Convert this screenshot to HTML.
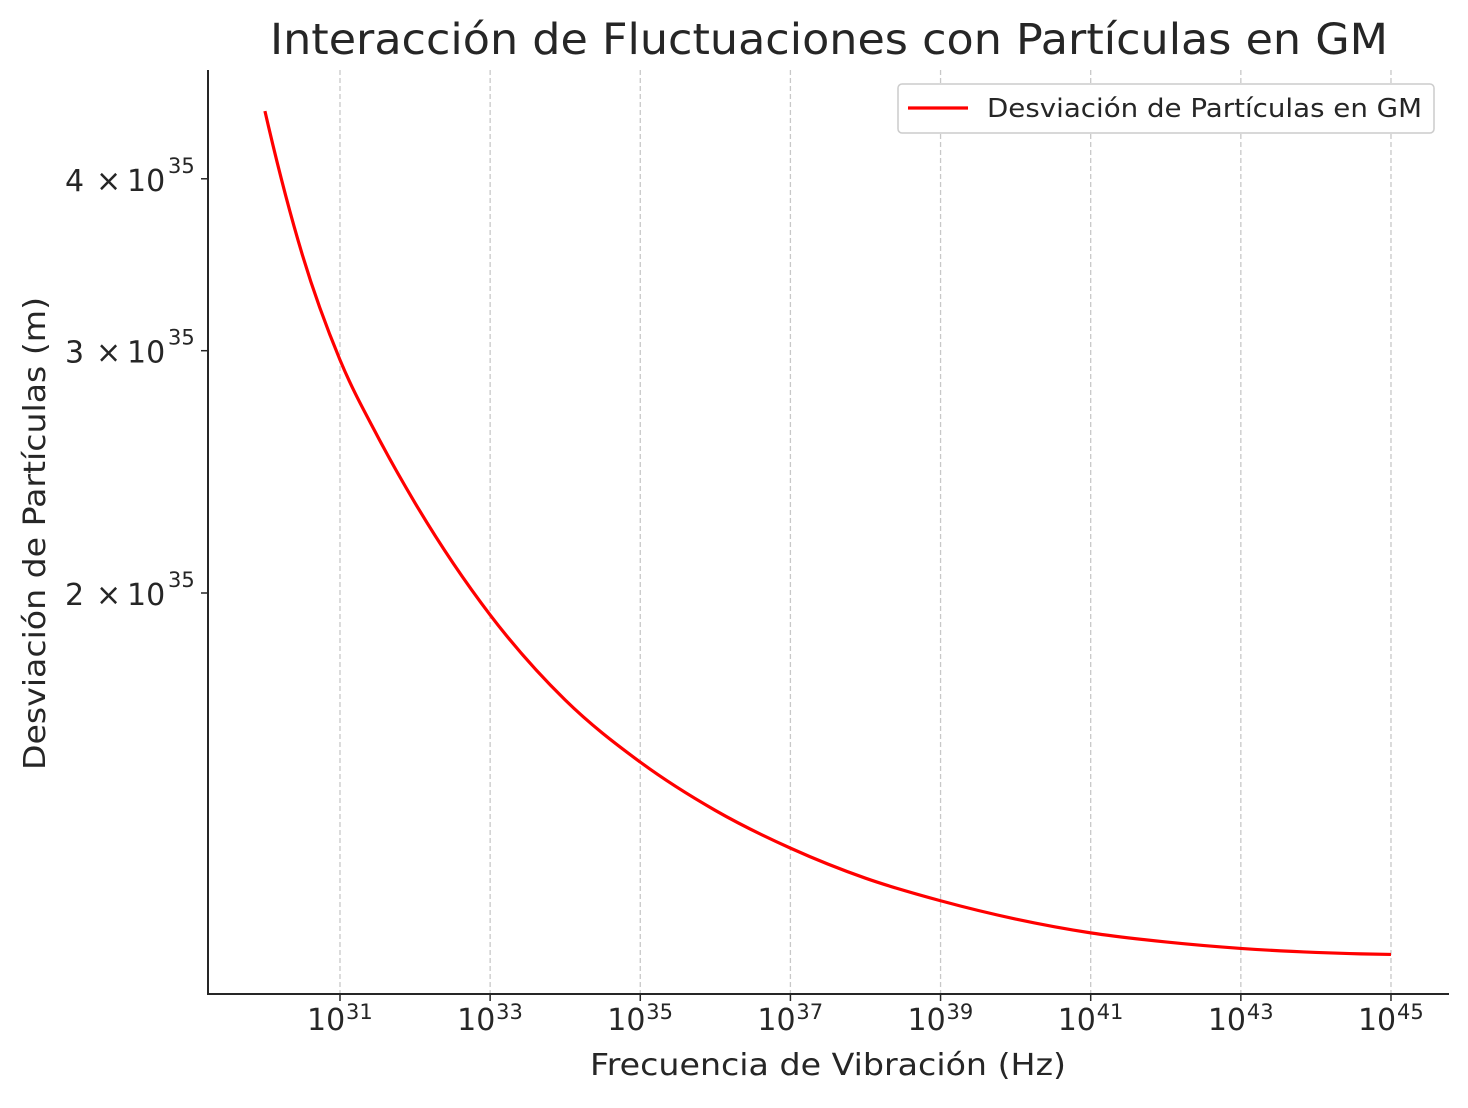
<!DOCTYPE html>
<html><head><meta charset="utf-8"><style>
body{margin:0;background:#fff}
text{font-family:"DejaVu Sans","Liberation Sans",sans-serif;fill:#262626}
</style></head><body>
<svg width="1468" height="1103" xmlns="http://www.w3.org/2000/svg">
<rect width="1468" height="1103" fill="#fff"/>
<text x="270" y="54" font-size="43" textLength="1118" lengthAdjust="spacingAndGlyphs">Interacción de Fluctuaciones con Partículas en GM</text>
<g id="grid"></g>
<g id="xt"></g>
<g id="yt"></g>
<path id="curve" fill="none" stroke="#ff0000" stroke-width="3.2" stroke-linejoin="round"/>
<line x1="208" y1="70" x2="208" y2="995" stroke="#262626" stroke-width="2"/>
<line x1="207" y1="994" x2="1449" y2="994" stroke="#262626" stroke-width="2"/>
<text x="590" y="1075" font-size="30" textLength="476" lengthAdjust="spacingAndGlyphs">Frecuencia de Vibración (Hz)</text>
<text transform="translate(45,770) rotate(-90)" font-size="30" textLength="473" lengthAdjust="spacingAndGlyphs">Desviación de Partículas (m)</text>
<g>
<rect x="898" y="84" width="536" height="49" rx="4" fill="#fff" stroke="#ccc" stroke-width="1.5"/>
<line x1="908" y1="108" x2="968" y2="108" stroke="#ff0000" stroke-width="3.2"/>
<text x="987" y="117" font-size="26" textLength="435" lengthAdjust="spacingAndGlyphs">Desviación de Partículas en GM</text>
</g>
</svg>
<script>
const xExp=[30,30.5,31,31.5,32,33,34,35,36,37,38,39,40,41,42,43,44,45];
const yVal=[4.48,3.52,2.954,2.60,2.325,1.928,1.672,1.507,1.39,1.305,1.241,1.195,1.159,1.1325,1.1154,1.1034,1.096,1.0923];
const xTickExp=[31,33,35,37,39,41,43,45];
const yTickVal=[2,3,4];
const NS="http://www.w3.org/2000/svg";
function xs(e){return 340+(e-31)*75.07;}
function ys(v){return 593-Math.log10(v/2)*1376;}
const grid=document.getElementById('grid'),xt=document.getElementById('xt'),yt=document.getElementById('yt');
function mk(p,tag,a){const el=document.createElementNS(NS,tag);for(const k in a)el.setAttribute(k,a[k]);p.appendChild(el);return el;}
xTickExp.forEach(e=>{
 const x=xs(e);
 const g=mk(grid,'line',{x1:x,y1:70,x2:x,y2:994,stroke:'#c8c8c8','stroke-width':1.3,'stroke-dasharray':'5,3'});
 
 
 mk(xt,'line',{x1:x,y1:994,x2:x,y2:1001,stroke:'#262626','stroke-width':1.5});
 const t=mk(xt,'text',{x:x-33,y:1030,'font-size':30});
 t.textContent='10';
 
 
 const s=mk(xt,'text',{x:x+6,y:1019,'font-size':21});
 s.textContent=String(e);
});
yTickVal.forEach(v=>{
 const y=ys(v);
 mk(yt,'line',{x1:201,y1:y,x2:208,y2:y,stroke:'#262626','stroke-width':1.5});
 const a=mk(yt,'text',{x:65,y:y+12,'font-size':30});
 a.textContent=String(v);
 
 
 const m=mk(yt,'text',{x:96,y:y+12,'font-size':30});
 m.textContent='\u00d7';
 const t=mk(yt,'text',{x:127,y:y+12,'font-size':30});
 t.textContent='10';
 const s=mk(yt,'text',{x:168,y:y-6,'font-size':21});
 s.textContent='35';
});
const P=xExp.map((e,i)=>[xs(e),ys(yVal[i])]);
const n=P.length,h=[],dl=[],m=[];
for(let i=0;i<n-1;i++){h.push(P[i+1][0]-P[i][0]);dl.push((P[i+1][1]-P[i][1])/h[i]);}
for(let i=0;i<n;i++){
 if(i===0)m.push(dl[0]+(dl[0]-dl[1])*h[0]/(h[0]+h[1]));
 else if(i===n-1)m.push(dl[n-2]+(dl[n-2]-dl[n-3])*h[n-2]/(h[n-2]+h[n-3]));
 else m.push((dl[i-1]*h[i]+dl[i]*h[i-1])/(h[i-1]+h[i]));
}
let d='M'+P[0][0]+','+P[0][1];
for(let i=0;i<n-1;i++){
 const k=h[i]/3;
 d+=' C'+(P[i][0]+k)+','+(P[i][1]+m[i]*k)+' '+(P[i+1][0]-k)+','+(P[i+1][1]-m[i+1]*k)+' '+P[i+1][0]+','+P[i+1][1];
}
document.getElementById('curve').setAttribute('d',d);
</script>
</body></html>
